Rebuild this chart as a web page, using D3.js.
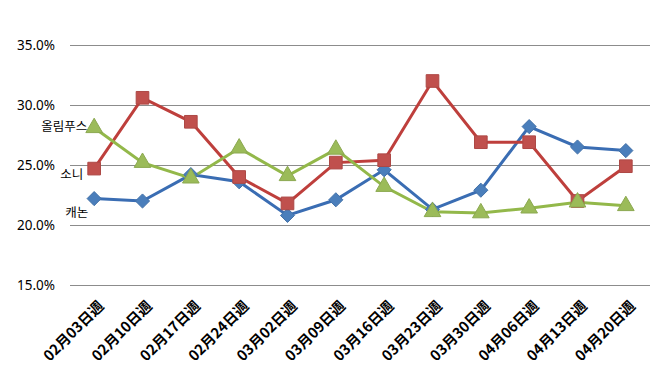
<!DOCTYPE html>
<html>
<head>
<meta charset="utf-8">
<script src="https://cdn.jsdelivr.net/npm/d3@7"></script>
<style>
  body { margin: 0; background: #fff; }
  svg { font-family: "Noto Sans CJK KR", "Noto Sans", sans-serif; }
  .axis text { fill: #000; }
</style>
</head>
<body>
<svg id="chart"></svg>
<script>
// Weekly categories
const weeks = ['02月03日週', '02月10日週', '02月17日週', '02月24日週', '03月02日週', '03月09日週',
    '03月16日週', '03月23日週', '03月30日週', '04月06日週', '04月13日週', '04月20日週'];

// Share per brand (%)
const canon = [22.2, 22.0, 24.2, 23.6, 20.8, 22.1, 24.6, 21.3, 22.9, 28.2, 26.5, 26.2];
const sony = [24.7, 30.6, 28.6, 24.0, 21.8, 25.2, 25.4, 32.0, 26.9, 26.9, 22.0, 24.9];
const olympus = [28.1, 25.2, 23.9, 26.4, 24.1, 26.3, 23.2, 21.1, 21.0, 21.4, 21.9, 21.6];

const yTicks = [15, 20, 25, 30, 35];

const config = {
    width: 669,
    height: 376,
    margin: { top: 45, right: 19, bottom: 91, left: 70 }
};

const width = config.width - config.margin.left - config.margin.right;
const height = config.height - config.margin.top - config.margin.bottom;

const svg = d3.select('#chart')
    .attr('width', config.width)
    .attr('height', config.height);

const chart = svg.append('g')
    .attr('transform', `translate(${config.margin.left},${config.margin.top})`);

const xScale = d3.scalePoint()
    .domain(weeks)
    .range([0, width])
    .padding(0.5);

const yScale = d3.scaleLinear()
    .domain([15, 35])
    .range([height, 0]);

// Gridlines + y labels
const yAxis = d3.axisLeft(yScale)
    .tickValues(yTicks)
    .tickSize(-width)
    .tickFormat(d => d.toFixed(1) + '%');

chart.append('g')
    .attr('class', 'axis y-axis')
    .call(yAxis)
    .call(g => g.select('.domain').remove())
    .call(g => g.selectAll('.tick line').attr('stroke', '#8c8c8c').attr('stroke-width', 1.2))
    .call(g => g.selectAll('.tick text').attr('font-size', 13.5).attr('x', -15).attr('font-family', 'Noto Sans'));

// X labels rotated
const xAxis = d3.axisBottom(xScale).tickSize(0).tickPadding(0);
chart.append('g')
    .attr('class', 'axis x-axis')
    .attr('transform', `translate(0,${height})`)
    .call(xAxis)
    .call(g => g.select('.domain').remove())
    .call(g => g.selectAll('.tick text')
        .attr('font-size', 14.5)
        .attr('font-weight', 'bold')
        .attr('font-family', 'Noto Sans CJK JP')
        .attr('text-anchor', 'end')
        .attr('dy', 0)
        .attr('transform', 'translate(10,22) rotate(-45)'));

const diamond = {
    draw(context, size) {
        const r = Math.sqrt(size) / 2 * Math.SQRT2;
        context.moveTo(0, -r);
        context.lineTo(r, 0);
        context.lineTo(0, r);
        context.lineTo(-r, 0);
        context.closePath();
    }
};

const series = [
    { name: '캐논', values: canon, line: '#3a6db3', fill: '#4a7ebb', shape: diamond, size: 100 },
    { name: '소니', values: sony, line: '#be3f3c', fill: '#c0504d', shape: d3.symbolSquare, size: 160 },
    { name: '올림푸스', values: olympus, line: '#93b84a', fill: '#9bbb59', shape: d3.symbolTriangle, size: 120 }
];

const line = d3.line()
    .x((d, i) => xScale(weeks[i]))
    .y(d => yScale(d));

series.forEach(s => {
    chart.append('path')
        .datum(s.values)
        .attr('fill', 'none')
        .attr('stroke', s.line)
        .attr('stroke-width', 3)
        .attr('d', line);
});

series.forEach(s => {
    chart.selectAll(null)
        .data(s.values)
        .enter()
        .append('path')
        .attr('d', d3.symbol().type(s.shape).size(s.size))
        .attr('transform', (d, i) => `translate(${xScale(weeks[i])},${yScale(d)})`)
        .attr('fill', s.fill)
        .attr('stroke', d3.color(s.fill).darker(0.3))
        .attr('stroke-width', 1);
});

// Series labels near the first point
const labelPos = [
    { name: '캐논', value: canon[0], dy: 14, dx: -6 },
    { name: '소니', value: sony[0], dy: 6, dx: -11 },
    { name: '올림푸스', value: olympus[0], dy: -1, dx: -7 }
];
chart.selectAll('.series-label')
    .data(labelPos)
    .enter()
    .append('text')
    .attr('class', 'series-label')
    .attr('x', d => xScale(weeks[0]) + d.dx)
    .attr('y', d => yScale(d.value) + d.dy)
    .attr('dy', '.35em')
    .attr('text-anchor', 'end')
    .attr('font-size', 12.5)
    .attr('fill', '#000')
    .text(d => d.name);
</script>
</body>
</html>
